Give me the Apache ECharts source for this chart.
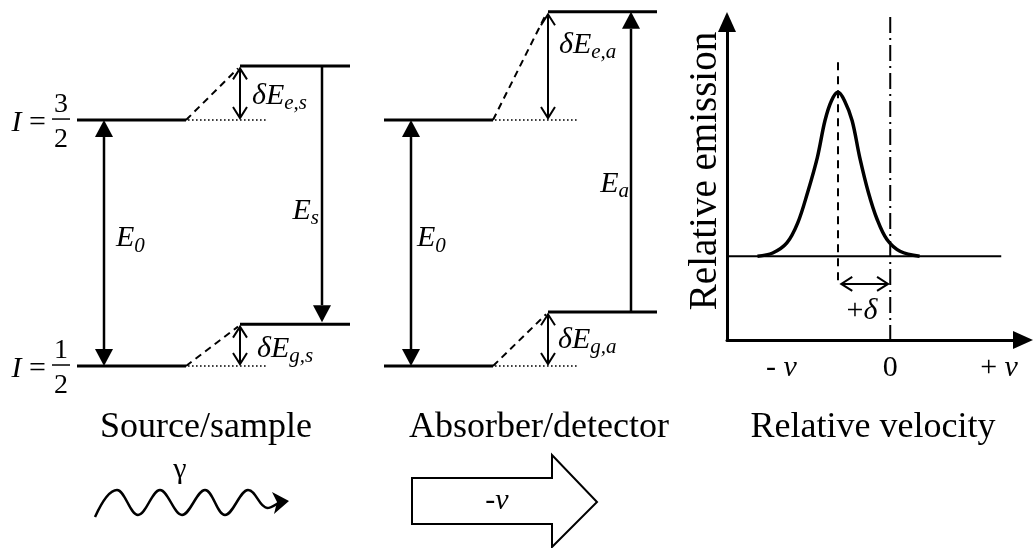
<!DOCTYPE html>
<html>
<head>
<meta charset="utf-8">
<title>Mössbauer isomer shift</title>
<script src="https://cdn.jsdelivr.net/npm/echarts@6/dist/echarts.min.js"></script>
<style>
  html, body { margin: 0; padding: 0; background: #ffffff; }
  #chart { width: 1033px; height: 548px; }
</style>
</head>
<body>
<div id="chart"></div>
<script>
// ---- Values -------------------------------------------------------------
// Nuclear level energies in arbitrary units (unperturbed gap E0 = 10)
const levelSpins = ['1/2', '3/2'];
const unperturbedEnergy = [0, 10];
const sourceShift = [1.7, 2.2];     // δE_g,s , δE_e,s
const absorberShift = [2.2, 4.4];   // δE_g,a , δE_e,a

// Emission line against relative velocity (velocity in units of v)
const velocity = [-1.22, -1.08, -0.95, -0.85, -0.76, -0.67, -0.60, -0.54, -0.48, -0.42, -0.35, -0.28, -0.20, -0.12, -0.03, 0.09, 0.27];
const emission = [0.50, 0.52, 0.58, 0.70, 0.88, 1.09, 1.31, 1.43, 1.48, 1.43, 1.31, 1.09, 0.88, 0.72, 0.60, 0.53, 0.50];
const emissionBaseline = 0.5;
const lineCentre = -0.48;           // isomer shift of the emission line
const velocityTicks = [-1, 0, 1];
const velocityTickLabels = ['- v', '0', '+ v'];

const panelTitles = ['Source/sample', 'Absorber/detector', 'Relative velocity'];

// ---- Styling & layout -----------------------------------------------------
const SERIF = '"Liberation Serif", "Times New Roman", serif';
const BLACK = '#000000';

const RICH = {
  it:  { fontFamily: SERIF, fontStyle: 'italic', fontSize: 30, fill: BLACK },
  rm:  { fontFamily: SERIF, fontSize: 30, fill: BLACK },
  num: { fontFamily: SERIF, fontSize: 28, fill: BLACK },
  sub: { fontFamily: SERIF, fontStyle: 'italic', fontSize: 21, fill: BLACK, padding: [15, 0, 0, 0] }
};

// horizontal placement of the two level schemes along the diagram axis
const schemes = [
  { shift: sourceShift,   left: 77,  kink: 186, right: 240, end: 350, dotEnd: 268,
    gapArrow: 104, shiftArrow: 240, transArrow: 322, emitting: true },
  { shift: absorberShift, left: 384, kink: 493, right: 548, end: 657, dotEnd: 577,
    gapArrow: 411, shiftArrow: 548, transArrow: 631, emitting: false }
];

const levelSegs = [];
const connectorSegs = [];
const guideSegs = [];
const transitionArrows = [];   // [x1, E1, x2, E2, headAtStart, headAtEnd]
const shiftArrows = [];

schemes.forEach(function (s) {
  unperturbedEnergy.forEach(function (E, i) {
    const Eshift = E + s.shift[i];
    levelSegs.push([s.left, E, s.kink, E]);
    levelSegs.push([s.right, Eshift, s.end, Eshift]);
    connectorSegs.push([s.kink, E, s.right - 2, Eshift - 0.1]);
    guideSegs.push([s.kink + 2, E, s.dotEnd, E]);
    shiftArrows.push([s.shiftArrow, Eshift - 0.1, s.shiftArrow, E + 0.08, 2, 2]);
  });
  transitionArrows.push([s.gapArrow, unperturbedEnergy[0], s.gapArrow, unperturbedEnergy[1], 1, 1]);
  const g = unperturbedEnergy[0] + s.shift[0];
  const e = unperturbedEnergy[1] + s.shift[1];
  transitionArrows.push(s.emitting ? [s.transArrow, e, s.transArrow, g + 0.08, 0, 1]
                                   : [s.transArrow, g, s.transArrow, e, 0, 1]);
});

// spin labels I = 3/2 and I = 1/2 beside the unperturbed levels
const numerators = levelSpins.map(function (t) { return t.split('/')[0]; });
const denominators = levelSpins.map(function (t) { return t.split('/')[1]; });
const fractionBars = unperturbedEnergy.map(function (E) { return [52, E + 0.04, 70, E + 0.04]; });

const diagramLabels = [];
unperturbedEnergy.forEach(function (E, i) {
  diagramLabels.push({ x: 46, e: E - 0.14, text: '{it|I} {rm|=}', align: 'right' });
  diagramLabels.push({ x: 61, e: E + 0.64, text: '{num|' + numerators[i] + '}', align: 'center' });
  diagramLabels.push({ x: 61, e: E - 0.80, text: '{num|' + denominators[i] + '}', align: 'center' });
});
diagramLabels.push(
  { x: 116, e: 5.18, text: '{it|E}{sub|0}', align: 'left' },
  { x: 319, e: 6.30, text: '{it|E}{sub|s}', align: 'right' },
  { x: 252, e: 10.98, text: '{it|δE}{sub|e,s}', align: 'left' },
  { x: 257, e: 0.70, text: '{it|δE}{sub|g,s}', align: 'left' },
  { x: 417, e: 5.18, text: '{it|E}{sub|0}', align: 'left' },
  { x: 629, e: 7.40, text: '{it|E}{sub|a}', align: 'right' },
  { x: 559, e: 13.05, text: '{it|δE}{sub|e,a}', align: 'left' },
  { x: 558, e: 1.06, text: '{it|δE}{sub|g,a}', align: 'left' }
);

const spectrumLabels = [
  { x: -0.26, e: 0.17, text: '{rm|+}{it|δ}', align: 'center' }
];

// gamma-ray wiggle: cubic pieces [x1, y1, cx1, cy1, cx2, cy2, x2, y2]
const photonPieces = [
  [95, 517, 100, 506, 108, 490, 117, 490],
  [117, 490, 125, 490, 130, 515, 138, 515],
  [138, 515, 146, 515, 152, 490, 160, 490],
  [160, 490, 168, 490, 174, 515, 182, 515],
  [182, 515, 190, 515, 197, 490, 205, 490],
  [205, 490, 213, 490, 217, 515, 225, 515],
  [225, 515, 233, 515, 240, 490, 248, 490],
  [248, 490, 256, 490, 259, 507, 267, 508],
  [267, 508, 272, 508, 276, 504, 280, 502]
];

// ---- Renderers -------------------------------------------------------------
function segmentRenderer(style) {
  return function (params, api) {
    const a = api.coord([api.value(0), api.value(1)]);
    const b = api.coord([api.value(2), api.value(3)]);
    return {
      type: 'line',
      shape: { x1: a[0], y1: a[1], x2: b[0], y2: b[1] },
      style: Object.assign({ stroke: BLACK, fill: null }, style)
    };
  };
}

function arrowRenderer(lineWidth) {
  return function (params, api) {
    const a = api.coord([api.value(0), api.value(1)]);
    const b = api.coord([api.value(2), api.value(3)]);
    const dx = b[0] - a[0], dy = b[1] - a[1];
    const len = Math.sqrt(dx * dx + dy * dy) || 1;
    const ux = dx / len, uy = dy / len;
    const px = -uy, py = ux;
    const children = [];
    function head(tip, hx, hy, kind) {
      if (kind === 1) {
        const L = 17, W = 9;
        const bx = tip[0] - hx * L, by = tip[1] - hy * L;
        children.push({
          type: 'polygon',
          shape: { points: [[tip[0], tip[1]], [bx + px * W, by + py * W], [bx - px * W, by - py * W]] },
          style: { fill: BLACK }
        });
        return [bx, by];
      }
      if (kind === 2) {
        const L = 11, W = 7;
        const bx = tip[0] - hx * L, by = tip[1] - hy * L;
        children.push({
          type: 'polyline',
          shape: { points: [[bx + px * W, by + py * W], [tip[0], tip[1]], [bx - px * W, by - py * W]] },
          style: { stroke: BLACK, lineWidth: 2, fill: null }
        });
      }
      return tip;
    }
    const s = head(a, -ux, -uy, api.value(4));
    const e = head(b, ux, uy, api.value(5));
    children.unshift({
      type: 'line',
      shape: { x1: s[0], y1: s[1], x2: e[0], y2: e[1] },
      style: { stroke: BLACK, lineWidth: lineWidth, fill: null }
    });
    return { type: 'group', children: children };
  };
}

function labelRenderer(list) {
  return function (params, api) {
    const item = list[params.dataIndex];
    const p = api.coord([api.value(0), api.value(1)]);
    return {
      type: 'text',
      x: p[0], y: p[1],
      style: {
        text: item.text, rich: RICH,
        align: item.align, textAlign: item.align,
        verticalAlign: 'middle', textVerticalAlign: 'middle',
        fill: BLACK, font: '30px ' + SERIF
      }
    };
  };
}

function customSeries(name, data, renderItem, axisIndex) {
  return {
    type: 'custom', name: name, silent: true, animation: false,
    coordinateSystem: 'cartesian2d',
    xAxisIndex: axisIndex, yAxisIndex: axisIndex,
    renderItem: renderItem, data: data, clip: false
  };
}

function straight(name, data, lineStyle, z) {
  return {
    type: 'line', name: name, xAxisIndex: 1, yAxisIndex: 1,
    data: data, symbol: 'none', silent: true, animation: false, clip: false,
    lineStyle: Object.assign({ color: BLACK }, lineStyle), z: z || 2
  };
}

function centredText(x, y, style) {
  return {
    type: 'text', x: x, y: y, silent: true,
    style: Object.assign({
      fill: BLACK, align: 'center', textAlign: 'center',
      verticalAlign: 'middle', textVerticalAlign: 'middle'
    }, style)
  };
}

// ---- Chart -----------------------------------------------------------------
const chart = echarts.init(document.getElementById('chart'), null, { renderer: 'canvas' });

const titleX = [206, 539, 873];

const decorations = panelTitles.map(function (t, i) {
  return centredText(titleX[i], 428, { text: t, font: '36px ' + SERIF });
});
photonPieces.forEach(function (p) {
  decorations.push({
    type: 'bezierCurve', silent: true,
    shape: { x1: p[0], y1: p[1], cpx1: p[2], cpy1: p[3], cpx2: p[4], cpy2: p[5], x2: p[6], y2: p[7] },
    style: { stroke: BLACK, lineWidth: 2.5, fill: null }
  });
});
decorations.push(
  {
    type: 'polygon', silent: true,
    shape: { points: [[289, 501], [272, 492], [277, 502], [274, 514]] },
    style: { fill: BLACK }
  },
  centredText(180, 470, { text: 'γ', font: '30px ' + SERIF }),
  {
    type: 'polygon', silent: true,
    shape: { points: [[412, 478], [552, 478], [552, 455], [597, 502], [552, 547], [552, 524], [412, 524]] },
    style: { fill: '#ffffff', stroke: BLACK, lineWidth: 2 }
  },
  centredText(497, 501, { text: '{rm|-}{it|v}', rich: RICH })
);

chart.setOption({
  backgroundColor: '#ffffff',
  animation: false,
  grid: [
    { left: 0, right: 0, top: 0, bottom: 0, outerBoundsMode: 'none' },
    { left: 727, right: 10, top: 22, bottom: 208, outerBoundsMode: 'none' }
  ],
  xAxis: [
    { type: 'value', gridIndex: 0, min: 0, max: 1033, show: false },
    {
      type: 'value', gridIndex: 1, min: -1.5, max: 1.22,
      splitLine: { show: false },
      axisTick: { show: false },
      axisLine: {
        onZero: false, symbol: ['none', 'triangle'], symbolSize: [18, 20],
        lineStyle: { color: BLACK, width: 3 }
      },
      axisLabel: {
        customValues: velocityTicks,
        margin: 13,
        formatter: function (val) {
          const i = velocityTicks.indexOf(val);
          const t = i < 0 ? '' : velocityTickLabels[i];
          return '{rm|' + t.replace('v', '}{it|v') + '}';
        },
        rich: {
          rm: { fontFamily: SERIF, fontSize: 30, color: BLACK },
          it: { fontFamily: SERIF, fontSize: 30, fontStyle: 'italic', color: BLACK }
        }
      }
    }
  ],
  yAxis: [
    { type: 'value', gridIndex: 0, min: -7.4, max: 14.88, show: false },
    {
      type: 'value', gridIndex: 1, min: 0, max: 1.9,
      splitLine: { show: false },
      axisTick: { show: false },
      axisLabel: { show: false },
      axisLine: {
        show: true, onZero: false, symbol: ['none', 'triangle'], symbolSize: [18, 20],
        lineStyle: { color: BLACK, width: 3 }
      },
      name: 'Relative emission',
      nameLocation: 'middle',
      nameRotate: 90,
      nameGap: 2,
      nameTextStyle: { fontFamily: SERIF, fontSize: 39, color: BLACK, padding: [0, 0, 0, 20] }
    }
  ],
  graphic: { elements: decorations },
  series: [
    customSeries('levels', levelSegs, segmentRenderer({ lineWidth: 3 }), 0),
    customSeries('shifted-level connectors', connectorSegs, segmentRenderer({ lineWidth: 2, lineDash: [7, 5] }), 0),
    customSeries('unperturbed guides', guideSegs, segmentRenderer({ lineWidth: 1.6, lineDash: [1.6, 2.4] }), 0),
    customSeries('fraction bars', fractionBars, segmentRenderer({ lineWidth: 1.5 }), 0),
    customSeries('transitions', transitionArrows, arrowRenderer(2.5), 0),
    customSeries('level shifts', shiftArrows, arrowRenderer(2), 0),
    customSeries('diagram labels', diagramLabels.map(function (d) { return [d.x, d.e]; }), labelRenderer(diagramLabels), 0),

    straight('baseline', [[-1.5, emissionBaseline], [1.02, emissionBaseline]], { width: 2 }, 2),
    straight('line centre', [[lineCentre, 1.66], [lineCentre, 0.33]], { width: 2, type: [8, 6] }, 3),
    straight('zero velocity', [[0, 1.93], [0, 0]], { width: 2, type: [16, 5, 2, 5] }, 3),
    {
      type: 'line', name: 'emission', xAxisIndex: 1, yAxisIndex: 1,
      data: velocity.map(function (v, i) { return [v, emission[i]]; }),
      smooth: 0.35, symbol: 'none', silent: true, animation: false,
      lineStyle: { color: BLACK, width: 3.5 }, z: 4
    },
    customSeries('isomer shift', [[lineCentre + 0.03, 0.335, -0.02, 0.335, 2, 2]], arrowRenderer(2), 1),
    customSeries('spectrum labels', spectrumLabels.map(function (d) { return [d.x, d.e]; }), labelRenderer(spectrumLabels), 1)
  ]
});
</script>
</body>
</html>
